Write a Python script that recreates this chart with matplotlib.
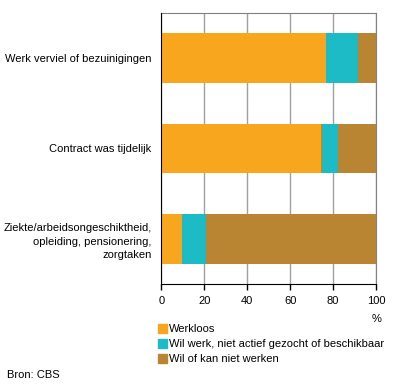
#!/usr/bin/env python3
"""
Redenen einde baan, gestapelde staven
"""

import matplotlib
matplotlib.use('Agg')
import matplotlib.pyplot as plt
from matplotlib.patches import Patch

categories = ['Werk verviel of bezuinigingen',
              'Contract was tijdelijk',
              'Ziekte/arbeidsongeschiktheid,\nopleiding, pensionering,\nzorgtaken']
werkloos = [76.7, 74.4, 9.6]
wil_werk = [14.6, 7.6, 10.9]
kan_niet = [8.7, 18.0, 79.5]
labels = ['Werkloos', 'Wil werk, niet actief gezocht of beschikbaar', 'Wil of kan niet werken']
colors = ['#F8A61E', '#1DBBC6', '#B98532']
xticks = [0, 20, 40, 60, 80, 100]

plt.rcParams['font.family'] = ['Liberation Sans', 'DejaVu Sans']
plt.rcParams['font.size'] = 8

fig = plt.figure(figsize=(3.96, 3.87), dpi=100)
ax = fig.add_axes([161.3 / 396, 1 - 284 / 387, (376 - 161.3) / 396, (284 - 13) / 387])

y = range(len(categories))
left = [0] * len(categories)
for vals, c in zip([werkloos, wil_werk, kan_niet], colors):
    ax.barh(y, vals, left=left, height=0.55, color=c, zorder=2)
    left = [l + v for l, v in zip(left, vals)]

ax.set_xlim(0, 100)
ax.set_ylim(2.5, -0.5)
ax.set_xticks(xticks)
ax.set_yticks(list(y))
ax.set_yticklabels(categories, ha='right', linespacing=1.45)
ax.tick_params(axis='y', length=0, pad=7)
ax.tick_params(axis='x', length=4, width=1, color='black', pad=5)
ax.grid(axis='x', color='#A0A0A0', linewidth=1, zorder=1)

for side in ['top', 'right']:
    ax.spines[side].set_color('#808080')
for side in ['left', 'bottom']:
    ax.spines[side].set_color('black')
    ax.spines[side].set_zorder(3)

fig.text(382 / 396, 1 - 319 / 387, '%', ha='right', va='center')

handles = [Patch(color=c) for c in colors]
fig.legend(handles, labels, loc='upper left', bbox_to_anchor=(158 / 396, 1 - 324 / 387),
           frameon=False, handlelength=0.8, handleheight=0.8, handletextpad=0.2,
           labelspacing=0.45, borderpad=0, borderaxespad=0)

fig.text(7 / 396, 1 - 375 / 387, 'Bron: CBS', ha='left', va='center')

plt.savefig('out.png')
